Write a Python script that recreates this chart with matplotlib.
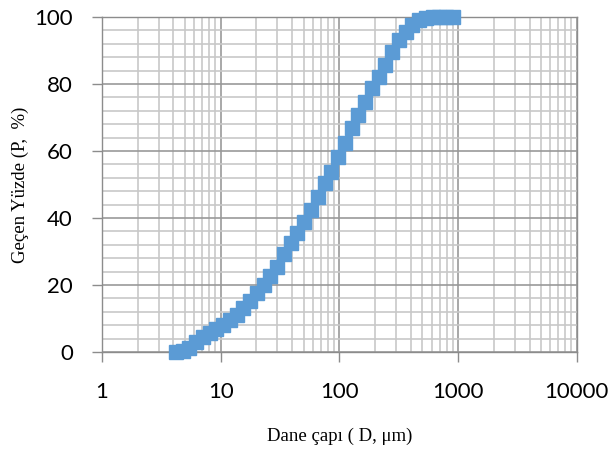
import numpy as np
import matplotlib
matplotlib.use("Agg")
import matplotlib.pyplot as plt
from matplotlib.ticker import LogLocator, MultipleLocator, FixedLocator, FixedFormatter, NullFormatter

# particle size (um) and cumulative passing (%)
diameter = [4.19, 4.78, 5.45, 6.21, 7.08, 8.07, 9.2, 10.5, 11.9, 13.6, 15.5,
            17.7, 20.2, 23.0, 26.2, 29.9, 34.1, 38.9, 44.3, 50.5, 57.6, 65.7,
            74.9, 85.4, 97.4, 111, 126.6, 144.3, 164.5, 187.5, 213.8, 243.7,
            277.8, 316.7, 361, 411.6, 469.2, 534.9, 609.8, 695.2, 792.5, 903.4]
passing = [0.0, 0.2, 1.2, 3.0, 4.5, 5.7, 6.8, 8.0, 9.4, 11.0, 13.0,
           15.3, 17.5, 20.0, 22.7, 25.5, 29.3, 32.5, 35.5, 38.8, 42.4, 46.3,
           50.4, 53.7, 58.2, 62.4, 66.9, 70.7, 74.6, 78.8, 82.0, 85.7,
           89.6, 93.1, 95.5, 97.6, 99.1, 99.7, 100.0, 100.0, 100.0, 100.0]

x_ticks = [1, 10, 100, 1000, 10000]
x_labels = ["1", "10", "100", "1000", "10000"]
y_ticks = [0, 20, 40, 60, 80, 100]

fig = plt.figure(figsize=(6.11, 4.5), dpi=100)
ax = fig.add_axes([0.167, 0.218, 0.777, 0.744])

ax.set_xscale("log")
ax.set_xlim(1, 10000)
ax.set_ylim(0, 100)

ax.plot(diameter, passing, linestyle="none", marker="s", markersize=10,
        color="#5B9BD5", markeredgecolor="#5B9BD5", markeredgewidth=1.0,
        zorder=3, clip_on=False)

ax.xaxis.set_major_locator(FixedLocator(x_ticks))
ax.xaxis.set_major_formatter(FixedFormatter(x_labels))
ax.xaxis.set_minor_locator(LogLocator(base=10, subs=np.arange(2, 10)))
ax.xaxis.set_minor_formatter(NullFormatter())
ax.yaxis.set_major_locator(FixedLocator(y_ticks))
ax.yaxis.set_minor_locator(MultipleLocator(4))

ax.grid(which="minor", color="#c8c8c8", linewidth=1.2, zorder=0)
ax.grid(which="major", color="#999999", linewidth=1.2, zorder=1)
ax.set_axisbelow(True)

for s in ax.spines.values():
    s.set_color("#8c8c8c")
    s.set_linewidth(1.0)

ax.tick_params(which="major", length=7, width=1.0, color="#8c8c8c",
               labelsize=16, labelcolor="black")
ax.tick_params(axis="x", which="major", pad=15)
ax.tick_params(axis="y", which="major", pad=14)
ax.tick_params(which="minor", length=0)
for lab in ax.get_xticklabels() + ax.get_yticklabels():
    lab.set_family("Lato")

ax.set_xlabel("Dane çapı ( D, μm)", family="Liberation Serif", fontsize=13.5, labelpad=18)
ax.set_ylabel("Geçen Yüzde (P,  %)", family="Liberation Serif", fontsize=13.5, labelpad=4)

plt.savefig("out.png", dpi=100)
